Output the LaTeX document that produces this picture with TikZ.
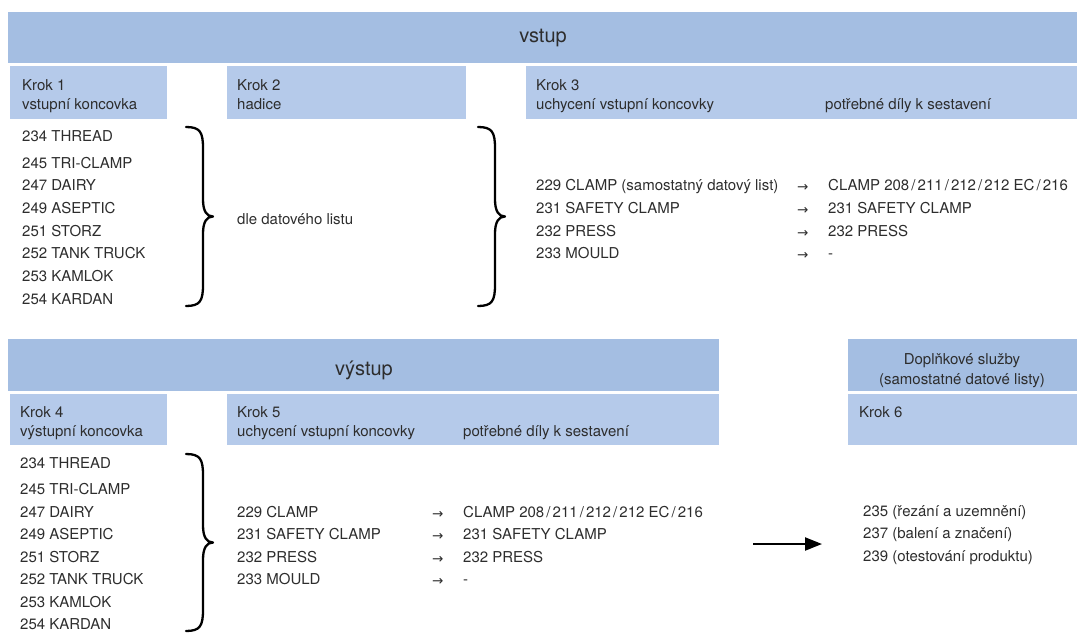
\documentclass[tikz,border=0pt]{standalone}
\usepackage{fontspec}
\setmainfont{TeX Gyre Heros}
\newfontfamily\arrfont{DejaVu Sans}
\usetikzlibrary{calc,arrows.meta}
\definecolor{barc}{RGB}{164,190,226}
\definecolor{stepc}{RGB}{181,202,234}
\definecolor{txtc}{RGB}{45,45,45}
\newcommand{\myslash}{\kern2.1pt/\kern2.1pt}
\newcommand{\curlybrace}[2]{%
 \draw[brc] let \p1=(#1), \p2=(#2), \p3=($(#1)!0.5!(#2)$) in
 (\p1) .. controls (\x1+14pt,\y1) and (\x1+17pt,\y1-5pt) .. (\x1+17pt,\y1-21pt)
 -- (\x1+17pt,\y3+17pt) .. controls (\x1+17pt,\y3+5pt) and (\x1+21pt,\y3) .. (\x1+27pt,\y3)
 .. controls (\x1+21pt,\y3) and (\x1+17pt,\y3-5pt) .. (\x1+17pt,\y3-17pt)
 -- (\x1+17pt,\y2+21pt) .. controls (\x1+17pt,\y2+5pt) and (\x1+14pt,\y2) .. (\p2);}
\tikzset{
 bar/.style={fill=barc,draw=none,inner sep=0,anchor=north west},
 stepbox/.style={fill=stepc,draw=none,inner sep=0,anchor=north west},
 txt/.style={anchor=base west,inner sep=0,text=txtc,font=\fontsize{15}{17}\selectfont},
 ctxt/.style={anchor=base,inner sep=0,text=txtc,font=\fontsize{15}{17}\selectfont},
 ttl/.style={anchor=base,inner sep=0,text=txtc,font=\fontsize{20}{24}\selectfont},
 arr/.style={anchor=base west,inner sep=0,text=txtc,font=\arrfont\fontsize{13.5}{15}\selectfont},
 brc/.style={line width=2.3pt,line cap=round,line join=round},
 bigarrow/.style={line width=2.2pt,-{Triangle[length=17pt,width=13pt]}},
}
\begin{document}
\begin{tikzpicture}[x=1pt,y=-1pt]
\useasboundingbox (0,0) rectangle (1077,633);
% boxes
\node[bar,minimum width=1069pt,minimum height=51pt] (vstupbar) at (8,12) {};
\node[stepbox,minimum width=157pt,minimum height=53pt] (k1) at (10,66) {};
\node[stepbox,minimum width=239pt,minimum height=53pt] (k2) at (227,66) {};
\node[stepbox,minimum width=551pt,minimum height=53pt] (k3) at (526,66) {};
\node[bar,minimum width=711pt,minimum height=52pt] (vystupbar) at (8,339) {};
\node[stepbox,minimum width=157pt,minimum height=51pt] (k4) at (10,394) {};
\node[stepbox,minimum width=492pt,minimum height=51pt] (k5) at (227,394) {};
\node[bar,minimum width=229pt,minimum height=52pt] (dopl) at (848,339) {};
\node[stepbox,minimum width=229pt,minimum height=51pt] (k6) at (848,394) {};
% titles
\node[ttl] (tvstup) at (543,42) {vstup};
\node[ttl] (tvystup) at (364,375) {výstup};
\node[ctxt] (td1) at (962,364) {Doplňkové služby};
\node[ctxt] (td2) at (962,384) {(samostatné datové listy)};
% step headers
\node[txt] (h1a) at (22,90.5) {Krok 1};
\node[txt] (h1b) at (22,109.5) {vstupní koncovka};
\node[txt] (h2a) at (237,90.5) {Krok 2};
\node[txt] (h2b) at (237,109.5) {hadice};
\node[txt] (h3a) at (536,90.5) {Krok 3};
\node[txt] (h3b) at (536,109.5) {uchycení vstupní koncovky};
\node[txt] (h3c) at (825,109.5) {potřebné díly k sestavení};
\node[txt] (h4a) at (20,417.3) {Krok 4};
\node[txt] (h4b) at (20,436.3) {výstupní koncovka};
\node[txt] (h5a) at (237,417.3) {Krok 5};
\node[txt] (h5b) at (237,436.3) {uchycení vstupní koncovky};
\node[txt] (h5c) at (463,436.3) {potřebné díly k sestavení};
\node[txt] (h6a) at (859,417.3) {Krok 6};
% step 1 list
\node[txt] (a1) at (22,141.3) {234 THREAD};
\node[txt] (a2) at (22,168.3) {245 TRI-CLAMP};
\node[txt] (a3) at (22,190.5) {247 DAIRY};
\node[txt] (a4) at (22,213.3) {249 ASEPTIC};
\node[txt] (a5) at (22,236.1) {251 STORZ};
\node[txt] (a6) at (22,258.7) {252 TANK TRUCK};
\node[txt] (a7) at (22,281.4) {253 KAMLOK};
\node[txt] (a8) at (22,304.2) {254 KARDAN};
\node[txt] (dle) at (237,224) {dle datového listu};
% step 3 list
\node[txt] (c1) at (536,190.3) {229 CLAMP (samostatný datový list)};
\node[txt] (c2) at (536,213.3) {231 SAFETY CLAMP};
\node[txt] (c3) at (536,236.3) {232 PRESS};
\node[txt] (c4) at (536,258.5) {233 MOULD};
\node[arr] (ca1) at (797,191.5) {→};
\node[arr] (ca2) at (797,214.5) {→};
\node[arr] (ca3) at (797,237.5) {→};
\node[arr] (ca4) at (797,259.7) {→};
\node[txt] (cr1) at (828,190.3) {CLAMP 208\myslash211\myslash212\myslash212 EC\myslash216};
\node[txt] (cr2) at (828,213.3) {231 SAFETY CLAMP};
\node[txt] (cr3) at (828,236.3) {232 PRESS};
\node[txt] (cr4) at (828,258.5) {-};
% step 4 list
\node[txt] (d1) at (20,468.3) {234 THREAD};
\node[txt] (d2) at (20,494.3) {245 TRI-CLAMP};
\node[txt] (d3) at (20,517.3) {247 DAIRY};
\node[txt] (d4) at (20,539.3) {249 ASEPTIC};
\node[txt] (d5) at (20,562.3) {251 STORZ};
\node[txt] (d6) at (20,584.5) {252 TANK TRUCK};
\node[txt] (d7) at (20,607.3) {253 KAMLOK};
\node[txt] (d8) at (20,629.5) {254 KARDAN};
% step 5 list
\node[txt] (e1) at (237,517.3) {229 CLAMP};
\node[txt] (e2) at (237,539.3) {231 SAFETY CLAMP};
\node[txt] (e3) at (237,562.3) {232 PRESS};
\node[txt] (e4) at (237,584.5) {233 MOULD};
\node[arr] (ea1) at (432,518.5) {→};
\node[arr] (ea2) at (432,540.5) {→};
\node[arr] (ea3) at (432,563.5) {→};
\node[arr] (ea4) at (432,585.7) {→};
\node[txt] (er1) at (463,517.3) {CLAMP 208\myslash211\myslash212\myslash212 EC\myslash216};
\node[txt] (er2) at (463,539.3) {231 SAFETY CLAMP};
\node[txt] (er3) at (463,562.3) {232 PRESS};
\node[txt] (er4) at (463,584.5) {-};
% step 6 list
\node[txt] (f1) at (863,516) {235 (řezání a uzemnění)};
\node[txt] (f2) at (863,538) {237 (balení a značení)};
\node[txt] (f3) at (863,561) {239 (otestování produktu)};
% braces
\coordinate (b1t) at (186,127);
\coordinate (b1b) at (186,306);
\coordinate (b2t) at (478,127);
\coordinate (b2b) at (478,306);
\coordinate (b3t) at (186,454);
\coordinate (b3b) at (186,631);
\curlybrace{b1t}{b1b}
\curlybrace{b2t}{b2b}
\curlybrace{b3t}{b3b}
% arrow
\coordinate (as) at (753,544);
\coordinate (ae) at (822,544);
\draw[bigarrow] (as) -- (ae);
\end{tikzpicture}
\end{document}
